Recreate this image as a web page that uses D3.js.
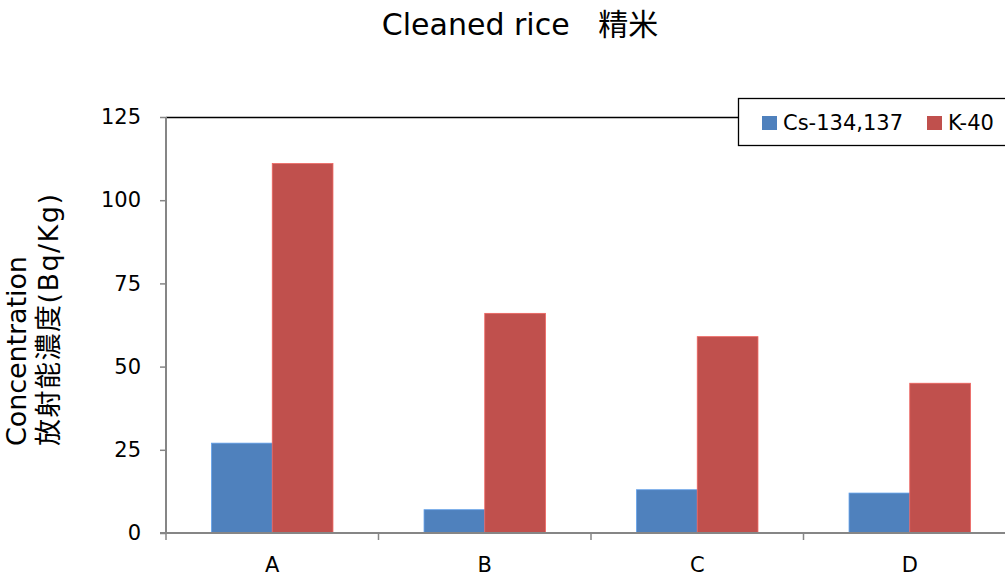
<!DOCTYPE html>
<html>
<head>
<meta charset="utf-8">
<script src="https://cdn.jsdelivr.net/npm/d3@7"></script>
<style>
  html, body { margin: 0; padding: 0; background: #fff; }
  svg { display: block; }
  text { font-family: "DejaVu Sans", "Noto Sans CJK JP", sans-serif; fill: #000; }
</style>
</head>
<body>
<svg id="chart" width="1005" height="577"></svg>
<script>
// Cleaned rice sample concentrations (Bq/kg)
const categories = ["A", "B", "C", "D"];
const seriesNames = ["Cs-134,137", "K-40"];
const csValues = [27, 7, 13, 12];
const kValues = [111, 66, 59, 45];
const yTicks = [0, 25, 50, 75, 100, 125];
const colors = ["#4F81BD", "#C0504D"];

const svg = d3.select("#chart");
const W = 1005, H = 577;
const margin = { left: 166, top: 117, right: -11, bottom: 44 };
const x0 = margin.left, x1 = W - margin.right;
const yTop = margin.top, yBot = H - margin.bottom;

const x = d3.scaleBand().domain(categories).range([x0, x1]).padding(0);
// Excel-style gap width: gap = 0.75 × bar width on each side of the pair
const barW = x.bandwidth() / (2 + 1.5);
const y = d3.scaleLinear().domain([0, 125]).range([yBot, yTop]);

// Title
svg.append("text")
  .attr("x", 520).attr("y", 35)
  .attr("text-anchor", "middle")
  .style("font-size", "30px")
  .style("white-space", "pre")
  .text("Cleaned rice   精米");

// Plot top border
svg.append("line")
  .attr("x1", x0).attr("x2", x1)
  .attr("y1", yTop + 0.5).attr("y2", yTop + 0.5)
  .attr("stroke", "#000").attr("stroke-width", 1.3);

// Bars
const data = categories.map((c, i) => ({ cat: c, vals: [csValues[i], kValues[i]] }));
const groups = svg.append("g").selectAll("g").data(data).join("g")
  .attr("transform", d => `translate(${x(d.cat)},0)`);
groups.selectAll("rect")
  .data(d => d.vals.map((v, j) => ({ v, j })))
  .join("rect")
  .attr("x", d => 0.75 * barW + d.j * barW)
  .attr("width", barW)
  .attr("y", d => y(d.v))
  .attr("height", d => y(0) - y(d.v))
  .attr("fill", d => colors[d.j])
  .attr("stroke", d => d3.color(colors[d.j]).brighter(0.6))
  .attr("stroke-width", 0.8);

// Y axis
const yAxis = d3.axisLeft(y).tickValues(yTicks).tickSize(6).tickPadding(19);
const gy = svg.append("g").attr("transform", `translate(${x0},0)`).call(yAxis);
gy.select(".domain").attr("stroke", "#868686").attr("stroke-width", 2).attr("d", `M0,${yTop}V${yBot}`);
gy.selectAll(".tick line").attr("stroke", "#868686").attr("stroke-width", 1.5);
gy.selectAll(".tick text").style("font-size", "21px").attr("fill", "#000")
  .style("font-family", "DejaVu Sans");

// X axis with ticks at category boundaries
const gx = svg.append("g").attr("transform", `translate(0,${yBot})`);
gx.append("line").attr("x1", x0 - 6).attr("x2", x1).attr("stroke", "#868686").attr("stroke-width", 2);
const bounds = categories.map(c => x(c)).concat([x1]);
gx.selectAll(".bt").data(bounds).join("line").attr("class", "bt")
  .attr("x1", d => d).attr("x2", d => d).attr("y1", 0).attr("y2", 7)
  .attr("stroke", "#868686").attr("stroke-width", 1.5);
gx.selectAll(".cl").data(categories).join("text").attr("class", "cl")
  .attr("x", d => x(d) + x.bandwidth() / 2)
  .attr("y", 39)
  .attr("text-anchor", "middle")
  .style("font-size", "21px")
  .text(d => d);

// Y axis title (two lines)
const yt = svg.append("g").attr("transform", "translate(0,446) rotate(-90)");
yt.append("text").attr("x", 0).attr("y", 26).style("font-size", "27px")
  .attr("textLength", 190).attr("lengthAdjust", "spacing").text("Concentration");
yt.append("text").attr("x", 0).attr("y", 58).style("font-size", "27px")
  .attr("textLength", 252).attr("lengthAdjust", "spacing").text("放射能濃度(Bq/Kg)");

// Legend
const lg = svg.append("g").attr("transform", "translate(738,98)");
lg.append("rect").attr("x", 0.5).attr("y", 0.5).attr("width", 290).attr("height", 47)
  .attr("fill", "#fff").attr("stroke", "#000").attr("stroke-width", 1.3);
const items = [{ n: seriesNames[0], c: colors[0], x: 24 }, { n: seriesNames[1], c: colors[1], x: 189 }];
items.forEach(it => {
  lg.append("rect").attr("x", it.x).attr("y", 18).attr("width", 15).attr("height", 14).attr("fill", it.c);
  lg.append("text").attr("x", it.x + 21).attr("y", 32).style("font-size", "21px").text(it.n);
});
</script>
</body>
</html>
